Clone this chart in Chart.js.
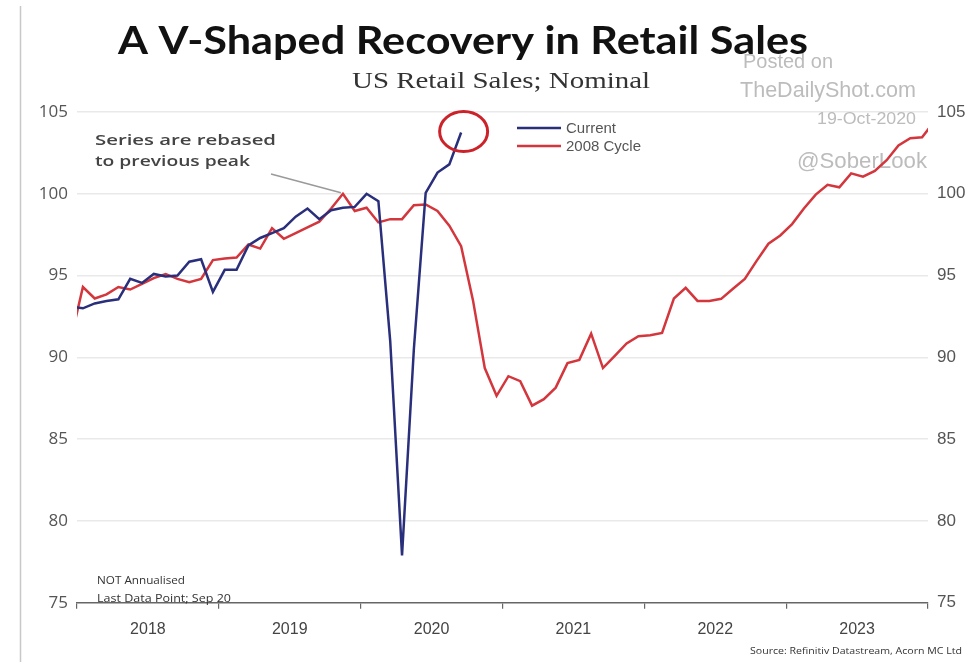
<!DOCTYPE html>
<html>
<head>
<meta charset="utf-8">
<title>A V-Shaped Recovery in Retail Sales</title>
<script src="https://cdn.jsdelivr.net/npm/chart.js@4.4.1/dist/chart.umd.min.js"></script>
<style>
  html, body { margin: 0; padding: 0; background: #fff; }
  #wrap { position: relative; width: 979px; height: 662px; }
</style>
</head>
<body>
<div id="wrap"><canvas id="myChart"></canvas></div>
<script>
'use strict';

/////// DATA ///////
let yearLabels = ['2018', '2019', '2020', '2021', '2022', '2023'];

// monthly values, first one is Dec 2017 (month -1), months counted from Jan 2018
let firstMonth = -1;

// Current cycle, Dec 2017 .. Sep 2020
let currentSales = [
  93.1,
  93.0, 93.3, 93.45, 93.55, 94.8, 94.55, 95.1, 94.95, 95.0, 95.85, 96.0, 94.0,
  95.35, 95.35, 96.85, 97.3, 97.6, 97.9, 98.6, 99.1, 98.45, 99.0, 99.15, 99.2,
  100.0, 99.55, 91.0, 77.9, 90.5, 100.05, 101.3, 101.8, 103.75
];

// 2008 cycle, rebased, Dec 2017 .. Jan 2024
let cycle2008 = [
  91.2,
  94.3, 93.6, 93.85, 94.3, 94.15, 94.5, 94.85, 95.1, 94.8, 94.6, 94.8, 95.95,
  96.05, 96.1, 96.9, 96.65, 97.9, 97.25, 97.6, 97.95, 98.3, 99.1, 100.0, 98.95,
  99.15, 98.25, 98.45, 98.45, 99.3, 99.35, 98.95, 98.05, 96.8, 93.5, 89.35, 87.65,
  88.85, 88.55, 87.05, 87.45, 88.15, 89.65, 89.85, 91.45, 89.35, 90.1, 90.85, 91.3,
  91.35, 91.5, 93.6, 94.25, 93.45, 93.45, 93.58, 94.2, 94.8, 95.9, 96.95, 97.45,
  98.15, 99.1, 99.95, 100.55, 100.4, 101.25, 101.05, 101.4, 102.05, 102.95, 103.4, 103.45,
  104.4
];

let yMin = 75;
let yMax = 105;
let yStep = 5;

let blueColor = '#2a2f7c';
let redColor = '#d3363c';

/////// HELPERS ///////

// points sit in the middle of each month
function toPoints(values) {
  let pts = [];
  for (let i = 0; i < values.length; i++) {
    pts.push({ x: firstMonth + i + 0.5, y: values[i] });
  }
  return pts;
}

// draw text at a font size, squeezed/stretched to a given width
function fitText(ctx, text, x, y, width, weight, family, align, size) {
  size = size || 16;
  ctx.font = weight + ' ' + size + 'px ' + family;
  let w = ctx.measureText(text).width;
  ctx.save();
  ctx.translate(x, y);
  ctx.scale(width / w, 1);
  ctx.textAlign = align || 'left';
  ctx.fillText(text, 0, 0);
  ctx.restore();
}

/////// DECOR PLUGIN ///////

const decor = {
  id: 'decor',
  beforeDatasetsDraw(chart) {
    let ctx = chart.ctx;
    ctx.save();
    ctx.fillStyle = '#bcbcbc';
    ctx.textBaseline = 'alphabetic';
    let wm = '"Liberation Sans", Arial, sans-serif';
    fitText(ctx, 'Posted on', 743, 68, 90, '400', wm, 'left', 20);
    fitText(ctx, 'TheDailyShot.com', 740, 97, 176, '400', wm, 'left', 22);
    fitText(ctx, '19-Oct-2020', 817, 124, 99, '400', wm, 'left', 17);
    fitText(ctx, '@SoberLook', 797, 168, 130, '400', wm, 'left', 22);
    ctx.restore();
  },
  afterDatasetsDraw(chart) {
    let ctx = chart.ctx;
    let xs = chart.scales.x;
    let ys = chart.scales.y;
    ctx.save();
    ctx.textBaseline = 'alphabetic';

    // frame line on the left
    ctx.strokeStyle = '#c8c8c8';
    ctx.lineWidth = 1.5;
    ctx.beginPath();
    ctx.moveTo(20.5, 6);
    ctx.lineTo(20.5, 662);
    ctx.stroke();

    // title + subtitle
    ctx.fillStyle = '#111';
    fitText(ctx, 'A V-Shaped Recovery in Retail Sales', 463, 54, 690, '700', 'Lato, "Open Sans", sans-serif', 'center', 39);
    ctx.fillStyle = '#333';
    fitText(ctx, 'US Retail Sales; Nominal', 501, 88, 298, '400', '"Liberation Serif", "DejaVu Serif", serif', 'center', 24);

    // legend
    let sets = chart.data.datasets;
    for (let i = 0; i < sets.length; i++) {
      let ly = 128 + i * 18;
      ctx.strokeStyle = sets[i].borderColor;
      ctx.lineWidth = 2.5;
      ctx.beginPath();
      ctx.moveTo(517, ly);
      ctx.lineTo(561, ly);
      ctx.stroke();
      ctx.fillStyle = '#555';
      ctx.font = '15px "Liberation Sans", Arial, sans-serif';
      ctx.textAlign = 'left';
      ctx.fillText(sets[i].label, 566, ly + 5);
    }

    // rebased note and pointer to the 2008 peak
    ctx.fillStyle = '#444';
    fitText(ctx, 'Series are rebased', 95, 145, 181, '600', '"Open Sans", sans-serif', 'left', 15);
    fitText(ctx, 'to previous peak', 95, 166, 155, '600', '"Open Sans", sans-serif', 'left', 15);
    let peakIdx = cycle2008.indexOf(Math.max.apply(null, cycle2008.slice(0, 30)));
    let px = xs.getPixelForValue(firstMonth + peakIdx + 0.5);
    let py = ys.getPixelForValue(cycle2008[peakIdx]);
    ctx.strokeStyle = '#9a9a9a';
    ctx.lineWidth = 1.5;
    ctx.beginPath();
    ctx.moveTo(271, 174);
    ctx.lineTo(px - 2, py - 1);
    ctx.stroke();

    // circle round the last current point
    let last = currentSales.length - 1;
    let cx = xs.getPixelForValue(firstMonth + last + 0.5) + 2.5;
    let cy = ys.getPixelForValue(currentSales[last]) - 1;
    ctx.strokeStyle = '#cc2229';
    ctx.lineWidth = 3;
    ctx.beginPath();
    ctx.ellipse(cx, cy, 24, 20, 0, 0, Math.PI * 2);
    ctx.stroke();

    // small notes
    ctx.fillStyle = '#333';
    fitText(ctx, 'NOT Annualised', 97, 584, 88, '400', '"Open Sans", sans-serif', 'left', 10);
    fitText(ctx, 'Last Data Point; Sep 20', 97, 602, 134, '400', '"Open Sans", sans-serif', 'left', 10);
    fitText(ctx, 'Source: Refinitiv Datastream, Acorn MC Ltd', 750, 654, 212, '400', '"Open Sans", sans-serif', 'left', 9);

    ctx.restore();
  }
};

/////// CHART ///////

function renderChart() {
  const ctx = document.getElementById('myChart');
  const myChart = new Chart(ctx, {
    type: 'line',
    data: {
      datasets: [{
        label: 'Current',
        data: toPoints(currentSales),
        borderColor: blueColor,
        backgroundColor: blueColor,
        borderWidth: 2.5,
        pointRadius: 0,
        tension: 0
      },
      {
        label: '2008 Cycle',
        data: toPoints(cycle2008),
        borderColor: redColor,
        backgroundColor: redColor,
        borderWidth: 2.5,
        pointRadius: 0,
        tension: 0
      }]
    },
    options: {
      responsive: true,
      maintainAspectRatio: false,
      animation: false,
      layout: { padding: { top: 112, bottom: 20, left: 18, right: 0 } },
      plugins: {
        legend: { display: false },
        tooltip: { enabled: false }
      },
      scales: {
        x: {
          type: 'linear',
          min: 0,
          max: yearLabels.length * 12,
          weight: 0,
          ticks: { display: false, stepSize: 12 },
          grid: { drawOnChartArea: false, color: '#666', tickLength: 6, lineWidth: 1.2 },
          border: { display: true, color: '#666', width: 1.5 }
        },
        x2: {
          type: 'category',
          labels: yearLabels,
          offset: true,
          weight: 1,
          position: 'bottom',
          ticks: { padding: 3, color: '#444', font: { size: 16, family: '"Liberation Sans", Arial, sans-serif' } },
          grid: { display: false },
          border: { display: false }
        },
        y: {
          position: 'left',
          min: yMin,
          max: yMax,
          afterFit(scale) { scale.width = 59; },
          ticks: { stepSize: yStep, padding: 9, color: '#555', font: { size: 17, family: '"Open Sans", sans-serif' } },
          grid: {
            drawTicks: false,
            color: (c) => (c.tick && c.tick.value === yMin ? 'rgba(0,0,0,0)' : '#e9e9e9'),
            lineWidth: 1.5
          },
          border: { display: false }
        },
        y2: {
          position: 'right',
          min: yMin,
          max: yMax,
          afterFit(scale) { scale.width = 51; },
          ticks: { stepSize: yStep, padding: 9, color: '#555', font: { size: 17, family: '"Liberation Sans", Arial, sans-serif' } },
          grid: { drawOnChartArea: false, drawTicks: false },
          border: { display: false }
        }
      }
    },
    plugins: [decor]
  });
  return myChart;
}

////// START ///////
renderChart();
</script>
</body>
</html>
